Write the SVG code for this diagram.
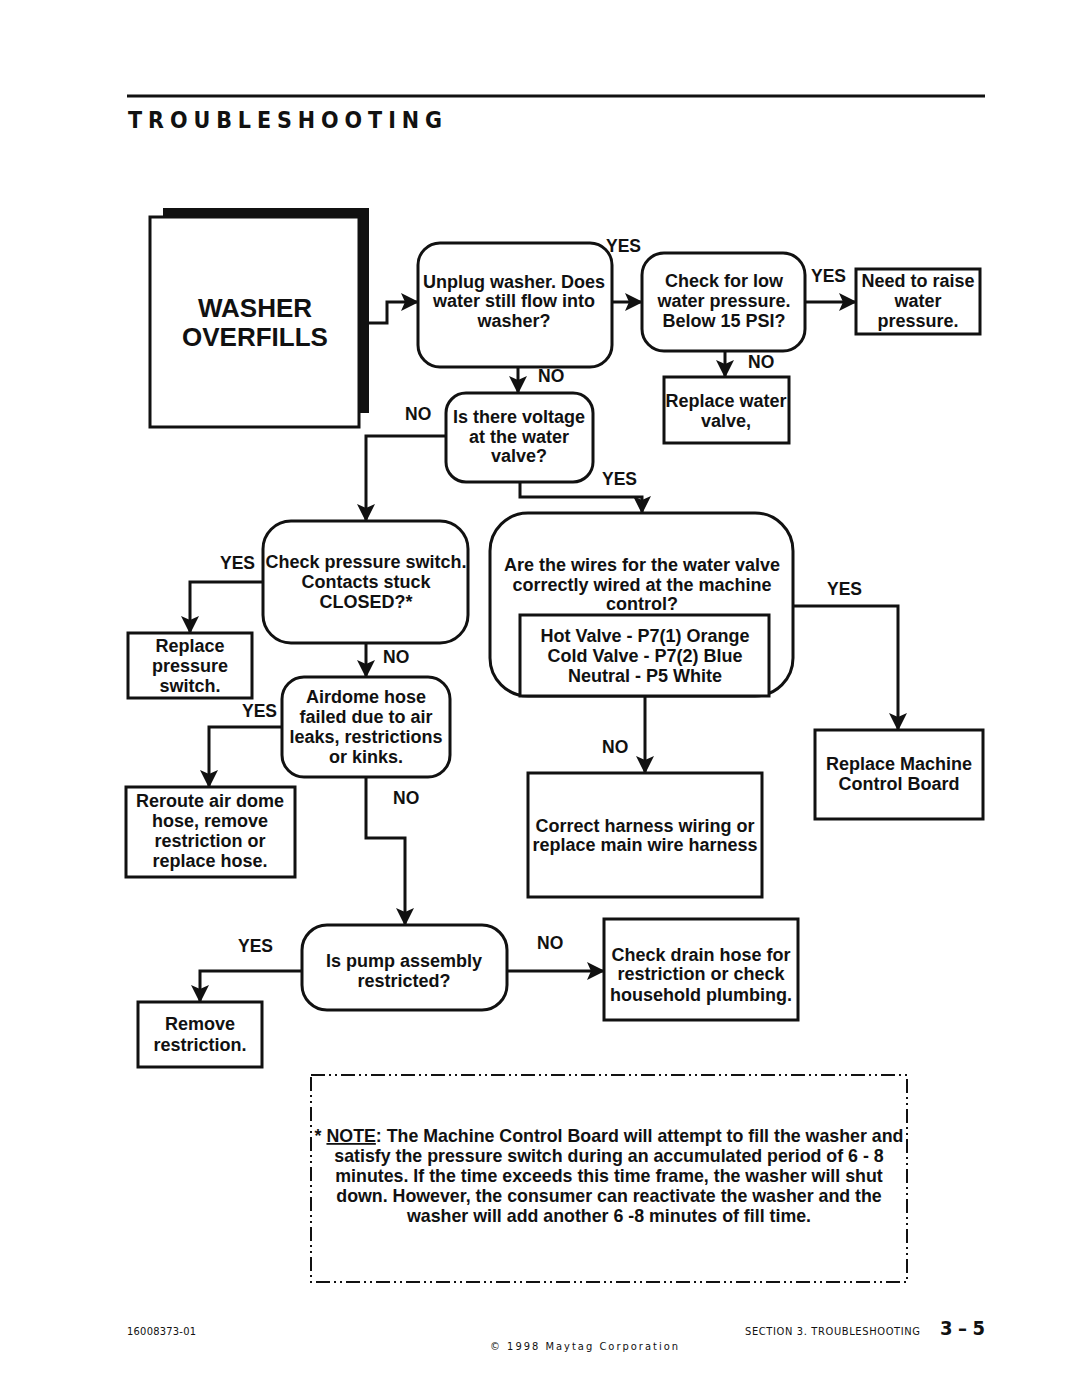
<svg xmlns="http://www.w3.org/2000/svg" width="1080" height="1397" viewBox="0 0 1080 1397">
<style>
.box{fill:#fff;stroke:#111;stroke-width:3}
.t{font-family:"Liberation Sans",Arial,sans-serif;font-weight:bold;font-size:18px;text-anchor:middle;fill:#111}
.big{font-size:26px}
.nt{font-size:17.8px}
.l{font-family:"Liberation Sans",Arial,sans-serif;font-weight:bold;font-size:17.5px;fill:#111}
.conn{fill:none;stroke:#111;stroke-width:3}
.din{font-family:"DejaVu Sans Condensed","DejaVu Sans",sans-serif;fill:#111}
</style>
<defs>
<marker id="arr" markerUnits="userSpaceOnUse" markerWidth="18" markerHeight="18" viewBox="0 0 18 18" refX="17" refY="9" orient="auto">
<path d="M0,0 L18,9 L0,18 L4,9 z" fill="#111"/>
</marker>
</defs>
<rect width="1080" height="1397" fill="#fff"/>
<g id="header">
<line x1="127" y1="96" x2="985" y2="96" stroke="#111" stroke-width="3"/>
<text class="din" x="128" y="128" font-size="23" font-weight="bold" textLength="314" lengthAdjust="spacing">TROUBLESHOOTING</text>
</g>
<g id="connectors">
<path class="conn" d="M369,323 H387 V302 H418" marker-end="url(#arr)"/>
<path class="conn" d="M612,302 H642" marker-end="url(#arr)"/>
<path class="conn" d="M805,302 H856" marker-end="url(#arr)"/>
<path class="conn" d="M725,351 V377" marker-end="url(#arr)"/>
<path class="conn" d="M518,367 V393" marker-end="url(#arr)"/>
<path class="conn" d="M446,436 H366 V521" marker-end="url(#arr)"/>
<path class="conn" d="M520,482 V497 H642 V513" marker-end="url(#arr)"/>
<path class="conn" d="M793,606 H898 V730" marker-end="url(#arr)"/>
<path class="conn" d="M645,697 V773" marker-end="url(#arr)"/>
<path class="conn" d="M263,582 H190 V633" marker-end="url(#arr)"/>
<path class="conn" d="M366,643 V677" marker-end="url(#arr)"/>
<path class="conn" d="M282,727 H209 V787" marker-end="url(#arr)"/>
<path class="conn" d="M366,777 V838 H405 V925" marker-end="url(#arr)"/>
<path class="conn" d="M302,971 H200 V1002" marker-end="url(#arr)"/>
<path class="conn" d="M507,971 H604" marker-end="url(#arr)"/>
</g>
<g id="labels">
<text class="l" x="606" y="252">YES</text>
<text class="l" x="811" y="282">YES</text>
<text class="l" x="748" y="368">NO</text>
<text class="l" x="538" y="382">NO</text>
<text class="l" x="405" y="420">NO</text>
<text class="l" x="602" y="485">YES</text>
<text class="l" x="827" y="595">YES</text>
<text class="l" x="602" y="753">NO</text>
<text class="l" x="220" y="569">YES</text>
<text class="l" x="383" y="663">NO</text>
<text class="l" x="242" y="717">YES</text>
<text class="l" x="393" y="804">NO</text>
<text class="l" x="238" y="952">YES</text>
<text class="l" x="537" y="949">NO</text>
</g>
<g id="washer-overfills">
<rect x="163" y="208" width="206" height="205" fill="#111"/>
<rect class="box" x="150" y="217" width="209" height="210"/>
<text class="t big" x="255" y="317">WASHER</text>
<text class="t big" x="255" y="346">OVERFILLS</text>
</g>
<g id="unplug">
<rect class="box" x="418" y="243" width="194" height="124" rx="22"/>
<text class="t" x="514" y="288">Unplug washer. Does</text>
<text class="t" x="514" y="307">water still flow into</text>
<text class="t" x="514" y="327">washer?</text>
</g>
<g id="check-low">
<rect class="box" x="642" y="253" width="163" height="98" rx="22"/>
<text class="t" x="724" y="287">Check for low</text>
<text class="t" x="724" y="307">water pressure.</text>
<text class="t" x="724" y="327">Below 15 PSI?</text>
</g>
<g id="raise">
<rect class="box" x="856" y="269" width="124" height="65"/>
<text class="t" x="918" y="287">Need to raise</text>
<text class="t" x="918" y="307">water</text>
<text class="t" x="918" y="327">pressure.</text>
</g>
<g id="replace-valve">
<rect class="box" x="664" y="377" width="125" height="66"/>
<text class="t" x="726" y="407">Replace water</text>
<text class="t" x="726" y="427">valve,</text>
</g>
<g id="voltage">
<rect class="box" x="446" y="393" width="147" height="89" rx="20"/>
<text class="t" x="519" y="423">Is there voltage</text>
<text class="t" x="519" y="443">at the water</text>
<text class="t" x="519" y="462">valve?</text>
</g>
<g id="wires">
<rect class="box" x="490" y="513" width="303" height="183" rx="38"/>
<text class="t" x="642" y="571">Are the wires for the water valve</text>
<text class="t" x="642" y="591">correctly wired at the machine</text>
<text class="t" x="642" y="610">control?</text>
<rect class="box" x="520" y="615" width="249" height="81"/>
<text class="t" x="645" y="642">Hot Valve - P7(1) Orange</text>
<text class="t" x="645" y="662">Cold Valve - P7(2) Blue</text>
<text class="t" x="645" y="682">Neutral - P5 White</text>
</g>
<g id="replace-mcb">
<rect class="box" x="815" y="730" width="168" height="89"/>
<text class="t" x="899" y="770">Replace Machine</text>
<text class="t" x="899" y="790">Control Board</text>
</g>
<g id="correct-harness">
<rect class="box" x="528" y="773" width="234" height="124"/>
<text class="t" x="645" y="832">Correct harness wiring or</text>
<text class="t" x="645" y="851">replace main wire harness</text>
</g>
<g id="check-pressure">
<rect class="box" x="263" y="521" width="205" height="122" rx="28"/>
<text class="t" x="366" y="568">Check pressure switch.</text>
<text class="t" x="366" y="588">Contacts stuck</text>
<text class="t" x="366" y="608">CLOSED?*</text>
</g>
<g id="replace-pressure">
<rect class="box" x="128" y="633" width="124" height="65"/>
<text class="t" x="190" y="652">Replace</text>
<text class="t" x="190" y="672">pressure</text>
<text class="t" x="190" y="692">switch.</text>
</g>
<g id="airdome">
<rect class="box" x="282" y="677" width="168" height="100" rx="22"/>
<text class="t" x="366" y="703">Airdome hose</text>
<text class="t" x="366" y="723">failed due to  air</text>
<text class="t" x="366" y="743">leaks, restrictions</text>
<text class="t" x="366" y="763">or kinks.</text>
</g>
<g id="reroute">
<rect class="box" x="126" y="787" width="169" height="90"/>
<text class="t" x="210" y="807">Reroute air dome</text>
<text class="t" x="210" y="827">hose, remove</text>
<text class="t" x="210" y="847">restriction or</text>
<text class="t" x="210" y="867">replace hose.</text>
</g>
<g id="pump">
<rect class="box" x="302" y="925" width="205" height="85" rx="25"/>
<text class="t" x="404" y="967">Is pump assembly</text>
<text class="t" x="404" y="987">restricted?</text>
</g>
<g id="remove">
<rect class="box" x="138" y="1002" width="124" height="65"/>
<text class="t" x="200" y="1030">Remove</text>
<text class="t" x="200" y="1051">restriction.</text>
</g>
<g id="drain">
<rect class="box" x="604" y="919" width="194" height="101"/>
<text class="t" x="701" y="961">Check drain hose for</text>
<text class="t" x="701" y="980">restriction or check</text>
<text class="t" x="701" y="1001">household plumbing.</text>
</g>
<g id="note">
<rect x="311" y="1075" width="596" height="207" fill="none" stroke="#111" stroke-width="2" stroke-dasharray="14 4 2 4 2 4"/>
<text class="t nt" x="609" y="1142">* <tspan text-decoration="underline">NOTE</tspan>: The Machine Control Board will attempt to fill the washer and</text>
<text class="t nt" x="609" y="1162">satisfy the pressure switch during an accumulated period of 6 - 8</text>
<text class="t nt" x="609" y="1182">minutes.  If the time exceeds this time frame, the washer will shut</text>
<text class="t nt" x="609" y="1202">down.  However, the consumer can reactivate the washer and the</text>
<text class="t nt" x="609" y="1222">washer will add another 6 -8 minutes of fill time.</text>
</g>
<g id="footer">
<text class="din" x="127" y="1335" font-size="11" textLength="69" lengthAdjust="spacing">16008373-01</text>
<text class="din" x="745" y="1335" font-size="11" textLength="175" lengthAdjust="spacing">SECTION 3.  TROUBLESHOOTING</text>
<text class="din" x="940" y="1335" font-size="20" font-weight="bold" textLength="45" lengthAdjust="spacing">3 – 5</text>
<text class="din" x="490" y="1350" font-size="11" textLength="188" lengthAdjust="spacing">© 1998 Maytag Corporation</text>
</g>
</svg>
